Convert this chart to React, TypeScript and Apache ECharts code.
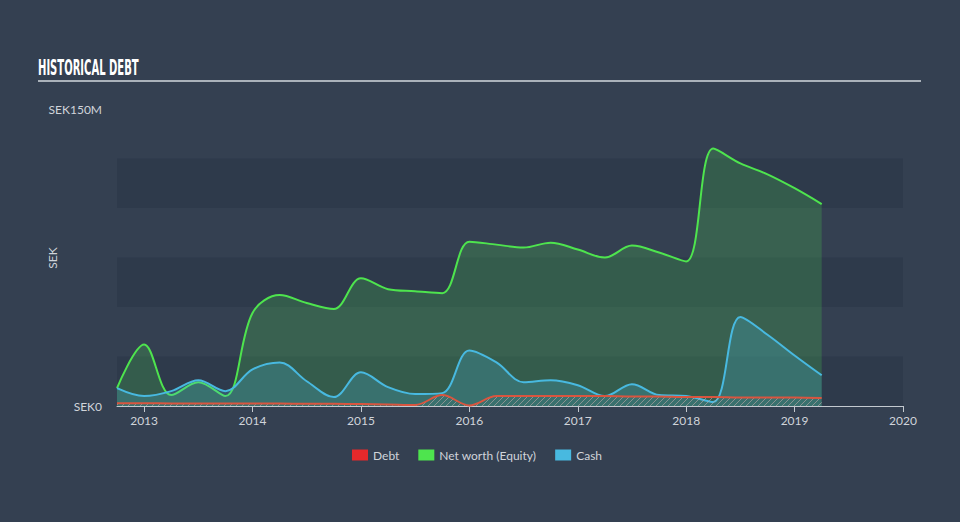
import React, { useEffect, useRef } from "react";
import * as echarts from "echarts";

const quarters = [
  2012.75, 2013.0, 2013.25, 2013.5, 2013.75, 2014.0, 2014.25, 2014.5, 2014.75,
  2015.0, 2015.25, 2015.5, 2015.75, 2016.0, 2016.25, 2016.5, 2016.75, 2017.0,
  2017.25, 2017.5, 2017.75, 2018.0, 2018.25, 2018.5, 2018.75, 2019.0, 2019.25,
];
const equity = [
  9, 31, 5.5, 12, 5, 47, 56, 52, 49, 64.5, 59, 58, 57, 83, 81.5, 80, 82.5, 79,
  75, 81, 77.5, 73, 130, 122.5, 117, 110, 102,
];
const cash = [
  9, 5, 7.5, 13, 7.5, 18.5, 22, 12.5, 4.5, 17, 9.5, 6, 6.5, 28, 22, 12, 13,
  10.5, 5, 11, 5.5, 5, 2, 45, 36, 25.5, 15.5,
];
const debt = [
  1.4, 1.4, 1.3, 1.3, 1.3, 1.2, 1.2, 1.1, 1.1, 1.0, 0.8, 0.5, 5.5, 0.3, 5, 5,
  5, 5, 5, 4.8, 4.8, 4.5, 4.5, 4.3, 4.3, 4.3, 4,
];
const yearTicks = [2013, 2014, 2015, 2016, 2017, 2018, 2019, 2020];

const BG = "#344051";
const GREEN = "#4ee44e";
const BLUE = "#48b9e0";
const RED = "#e5292b";
const TEXT = "#d0d4da";

function makeHatch(): HTMLCanvasElement {
  const c = document.createElement("canvas");
  c.width = 6;
  c.height = 6;
  const ctx = c.getContext("2d")!;
  ctx.strokeStyle = "rgba(190,170,170,0.6)";
  ctx.lineWidth = 1;
  ctx.beginPath();
  ctx.moveTo(0, 6);
  ctx.lineTo(6, 0);
  ctx.moveTo(-3, 3);
  ctx.lineTo(3, -3);
  ctx.moveTo(3, 9);
  ctx.lineTo(9, 3);
  ctx.stroke();
  return c;
}

export default function App() {
  const ref = useRef<HTMLDivElement>(null);
  useEffect(() => {
    const chart = echarts.init(ref.current!, null, { renderer: "svg" });
    const zip = (vals: number[]) => quarters.map((q, i) => [q, vals[i]]);
    chart.setOption({
      animation: false,
      backgroundColor: BG,
      textStyle: { fontFamily: "Lato, 'Open Sans', sans-serif" },
      graphic: [
        {
          type: "text",
          left: 38,
          top: 57,
          style: {
            text: "HISTORICAL DEBT",
            fill: "#ffffff",
            font: "bold 21px 'Liberation Sans Narrow', 'DejaVu Sans Condensed', sans-serif",
          },
          scaleX: 0.53,
        },
        {
          type: "line",
          shape: { x1: 38, y1: 81, x2: 921, y2: 81 },
          style: { stroke: "#aab2ba", lineWidth: 2 },
        },
        {
          type: "text",
          x: 52,
          y: 258,
          rotation: Math.PI / 2,
          style: {
            text: "SEK",
            fill: TEXT,
            font: "12px Lato, 'Open Sans', sans-serif",
            align: "center",
            verticalAlign: "middle",
          },
        },
      ],
      legend: {
        data: ["Debt", "Net worth (Equity)", "Cash"],
        left: 347,
        top: 444,
        icon: "rect",
        itemWidth: 16,
        itemHeight: 11,
        itemGap: 19,
        textStyle: { color: TEXT, fontSize: 12 },
      },
      grid: { left: 117, right: 57, top: 109, bottom: 116 },
      xAxis: {
        type: "value",
        min: 2012.75,
        max: 2020,
        axisLine: { show: true, lineStyle: { color: "#c3c9cf", width: 1 } },
        axisTick: {
          show: true,
          length: 6,
          lineStyle: { color: "#c3c9cf" },
          customValues: yearTicks,
        },
        axisLabel: {
          color: TEXT,
          fontSize: 12,
          margin: 8,
          customValues: yearTicks,
          formatter: (v: number) => String(Math.round(v)),
        },
        splitLine: { show: false },
      },
      yAxis: {
        type: "value",
        min: 0,
        max: 150,
        interval: 25,
        axisLine: { show: false },
        axisTick: { show: false },
        axisLabel: {
          color: TEXT,
          fontSize: 12,
          margin: 15,
          formatter: (v: number) => (v === 0 ? "SEK0" : v === 150 ? "SEK150M" : ""),
        },
        splitLine: { show: false },
        splitArea: {
          show: true,
          areaStyle: { color: ["rgba(20,30,45,0.17)", "rgba(0,0,0,0)"] },
        },
      },
      series: [
        {
          name: "Net worth (Equity)",
          type: "line",
          data: zip(equity),
          smooth: 0.35,
          symbol: "none",
          lineStyle: { color: GREEN, width: 2 },
          itemStyle: { color: GREEN },
          areaStyle: { color: GREEN, opacity: 0.2 },
          z: 2,
        },
        {
          name: "Cash",
          type: "line",
          data: zip(cash),
          smooth: 0.35,
          symbol: "none",
          lineStyle: { color: BLUE, width: 2 },
          itemStyle: { color: BLUE },
          areaStyle: { color: BLUE, opacity: 0.23 },
          z: 3,
        },
        {
          name: "Debt",
          type: "line",
          data: zip(debt),
          smooth: 0.35,
          symbol: "none",
          lineStyle: { color: "#d9553f", width: 2 },
          itemStyle: { color: RED },
          areaStyle: { color: { image: makeHatch(), repeat: "repeat" }, opacity: 1 },
          z: 4,
        },
      ],
    });
    return () => chart.dispose();
  }, []);
  return (
    <div
      ref={ref}
      style={{ position: "fixed", left: 0, top: 0, width: 960, height: 522 }}
    />
  );
}
